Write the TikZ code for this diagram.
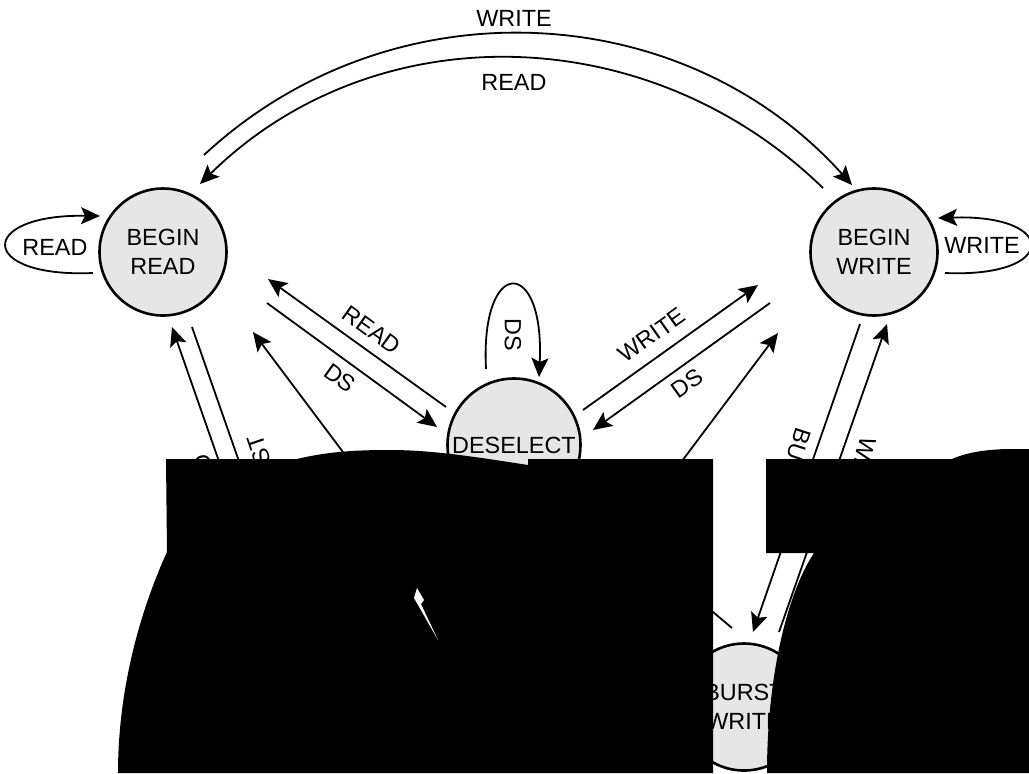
\documentclass[tikz,border=0pt]{standalone}
\usepackage{fontspec}
\setmainfont{Liberation Sans}
\usetikzlibrary{arrows.meta,calc}
\definecolor{grisclaro}{HTML}{E6E6E6}
\definecolor{tapa}{HTML}{000000}
\tikzset{
  estado/.style={circle, draw, line width=1.3pt, fill=grisclaro, minimum size=63.5pt, inner sep=0pt, align=center},
  flecha/.style={-{Stealth[length=9.5pt,width=8.5pt,inset=2pt]}, line width=0.9pt},
  rotulo/.style={inner sep=0pt}
}

\begin{document}
\begin{tikzpicture}[x=0.5pt, y=-0.5pt, font=\fontsize{11.7}{14.3}\selectfont]
        \useasboundingbox (0,0) rectangle (1029,773);
        \node[estado] (leer) at (163,252) {BEGIN\\READ};
        \node[estado] (escribir) at (874,252) {BEGIN\\WRITE};
        \node[estado, minimum size=66.5pt] (desel) at (514,445) {DESELECT};
        \node[estado] (rafaga) at (744,707) {BURST\\WRITE};
        \coordinate (bajoizq) at (388,512);
        \coordinate (bajoder) at (640,517);
        \coordinate (rafagaizq1) at (250,550);
        \coordinate (rafagaizq2) at (270,550);

        \draw[flecha] ($(leer)+(41,-97)$) .. controls (390,-18) and (682,-4) .. ($(escribir)+(-22,-67)$);
        \draw[flecha] ($(escribir)+(-51,-64)$) .. controls (648,18) and (374,13) .. ($(leer)+(37,-68)$);
        \node[rotulo] at (514,18) {WRITE};
        \node[rotulo] at (514,82) {READ};

        \draw[flecha] ($(leer)+(-70,21)$) .. controls (-23,278) and (-23,214) .. ($(leer)+(-63,-36)$);
        \node[rotulo] at (55,247) {READ};
        \draw[flecha] ($(escribir)+(71,21)$) .. controls (1059,278) and (1059,214) .. ($(escribir)+(64,-34)$);
        \node[rotulo] at (982,245) {WRITE};
        \draw[flecha] ($(desel)+(-28,-76)$) .. controls (480,256) and (545,256) .. ($(desel)+(25,-68)$);
        \node[rotulo, rotate=-90] at (513,335) {DS};

        \draw[flecha] ($(desel)+(-68,-38)$) -- ($(leer)+(105,27)$);
        \draw[flecha] ($(leer)+(104,51)$) -- ($(desel)+(-77,-18)$);
        \node[rotulo, rotate=-35.7] at (372,330) {READ};
        \node[rotulo, rotate=-35.7] at (340,378) {DS};
        \draw[flecha] ($(desel)+(69,-35)$) -- ($(escribir)+(-116,33)$);
        \draw[flecha] ($(escribir)+(-104,51)$) -- ($(desel)+(79,-15)$);
        \node[rotulo, rotate=35.5] at (652,335) {WRITE};
        \node[rotulo, rotate=35.5] at (687,383) {DS};

        \draw[flecha] (bajoizq) -- ($(leer)+(90,80)$);
        \draw[flecha] (bajoder) -- ($(escribir)+(-96,81)$);
        \draw[flecha] ($(rafaga)+(-12,-79)$) -- ($(desel)+(60,50)$);

        \draw[flecha] (rafagaizq1) -- ($(leer)+(9,75)$);
        \draw[flecha] ($(leer)+(29,75)$) -- (rafagaizq2);
        \node[rotulo, rotate=109] at (211,486) {READ};
        \node[rotulo, rotate=109] at (267,473) {BURST};
        \draw[flecha] ($(escribir)+(-14,72)$) -- ($(rafaga)+(9,-75)$);
        \draw[flecha] ($(rafaga)+(35,-75)$) -- ($(escribir)+(13,72)$);
        \node[rotulo, rotate=-108] at (792,467) {BURST};
        \node[rotulo, rotate=-108] at (858,474) {WRITE};

        \fill[tapa] (166,459) -- (297,459) .. controls (330,451) and (360,450) .. (390,450)
          .. controls (430,450) and (470,456) .. (528,465) -- (528,459) -- (713,459) -- (713,773)
          -- (118,773) .. controls (118,680) and (145,600) .. (167,552) -- cycle;
        \fill[tapa] (766,459) -- (952,459) .. controls (968,452) and (985,450) .. (1005,449)
          -- (1029,449) -- (1029,773) -- (767,773) .. controls (767,680) and (786,595) .. (814,553)
          -- (766,553) -- cycle;
        \fill[white] (417,588) -- (424,600) -- (421,604) -- (438,640) -- (414,598) -- cycle;
      \end{tikzpicture}
\end{document}
